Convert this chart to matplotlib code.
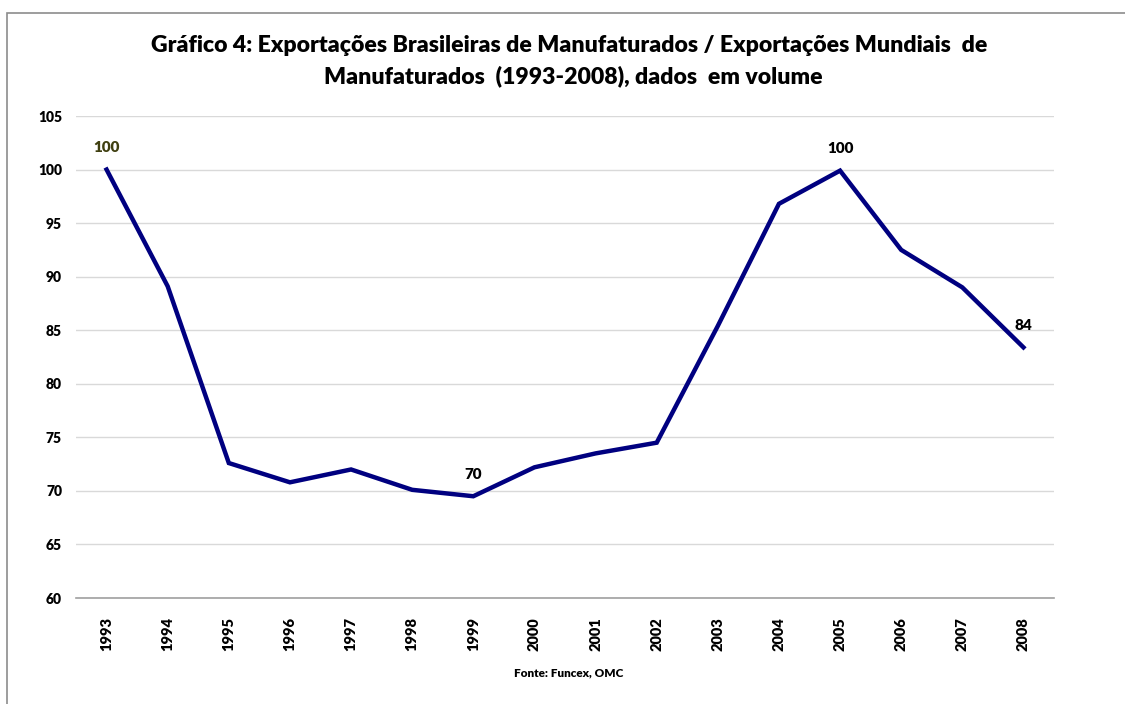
import matplotlib
matplotlib.use("Agg")
import matplotlib.pyplot as plt
from matplotlib.patches import Rectangle

years = ["1993", "1994", "1995", "1996", "1997", "1998", "1999", "2000",
         "2001", "2002", "2003", "2004", "2005", "2006", "2007", "2008"]
values = [100.0, 89.1, 72.6, 70.8, 72.0, 70.1, 69.5, 72.2,
          73.5, 74.5, 85.4, 96.8, 99.9, 92.5, 89.0, 83.4]
yticks = [60, 65, 70, 75, 80, 85, 90, 95, 100, 105]
point_labels = {0: "100", 6: "70", 12: "100", 15: "84"}

plt.rcParams['font.family'] = ['Lato', 'DejaVu Sans']
W = "heavy"

fig = plt.figure(figsize=(11.25, 7.04), dpi=100)
ax = fig.add_axes([76/1125, 1 - 598/704, (1054-76)/1125, (598-116)/704])

x = list(range(len(years)))
ax.plot(x, values, color="#000080", linewidth=3.2, solid_joinstyle="miter", zorder=3)

ax.set_ylim(60, 105)
ax.set_xlim(-0.5, len(years) - 0.5)
ax.set_yticks(yticks)
ax.set_yticklabels([str(t) for t in yticks], fontsize=10, fontweight=W)
ax.set_xticks(x)
ax.set_xticklabels(years, rotation=90, fontsize=10.5, fontweight=W)
ax.tick_params(length=0, pad=10)
ax.tick_params(axis="x", pad=13.7)

ax.grid(axis="y", color="#d9d9d9", linewidth=1)
ax.set_axisbelow(True)
for s in ["left", "right", "top"]:
    ax.spines[s].set_visible(False)
ax.spines["bottom"].set_color("#a0a0a0")
ax.spines["bottom"].set_linewidth(1.2)

for i, lab in point_labels.items():
    col = "#3f3f10" if i == 0 else "black"
    ax.annotate(lab, (i, values[i]), xytext=(0, 11), textcoords="offset points",
                ha="center", va="bottom", fontsize=11, fontweight=W, color=col)

fig.text(569/1125, 1 - 45/704, "Gráfico 4: Exportações Brasileiras de Manufaturados / Exportações Mundiais  de",
         ha="center", va="center", fontsize=16.6, fontweight=W)
fig.text(573/1125, 1 - 76/704, "Manufaturados  (1993-2008), dados  em volume",
         ha="center", va="center", fontsize=16.6, fontweight=W)
fig.text(569/1125, 1 - 673/704, "Fonte: Funcex, OMC", ha="center", va="center",
         fontsize=8.5, fontweight=W)

fig.patches.append(Rectangle((7/1125, -0.05), 1.2, 1 - 13/704 + 0.05, transform=fig.transFigure,
                             fill=False, edgecolor="#8c8c8c", linewidth=1.2))

fig.savefig("out.png", dpi=100)
